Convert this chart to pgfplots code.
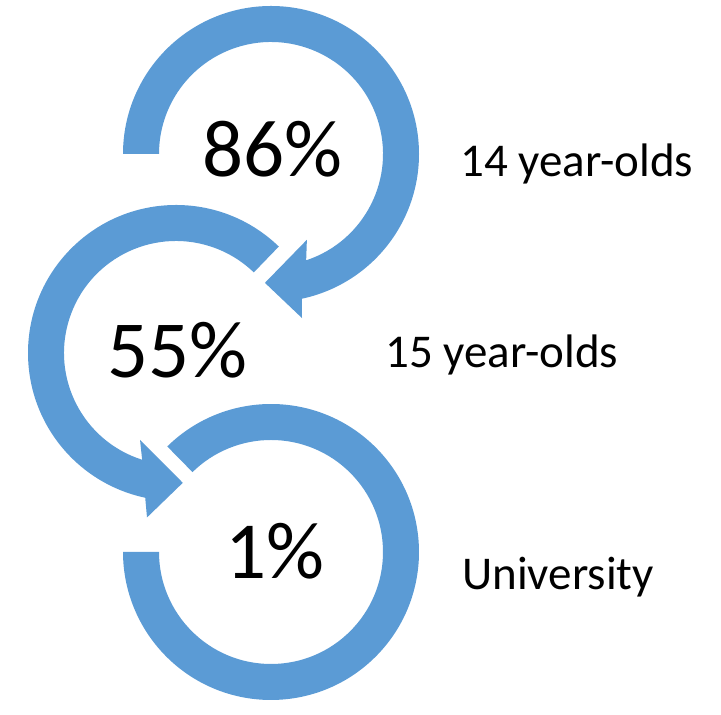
\documentclass[border=0pt]{standalone}
\usepackage{fontspec}
\setmainfont{Carlito}
\usepackage{pgfplots}
\pgfplotsset{compat=1.18}
\definecolor{arrowblue}{HTML}{5B9BD5}
\begin{document}
\begin{tikzpicture}
\begin{axis}[
  x=1pt, y=1pt,
  xmin=0, xmax=721, ymin=0, ymax=701,
  hide axis, clip=false,
]
\path (axis cs:0,0) rectangle (axis cs:721,701);
% top circular arrow (86%)
\fill[arrowblue, shift={(axis cs:271,547)}]
  (180:148pt) arc[start angle=180, end angle=-78, radius=148pt]
  -- (-79.3:167pt) -- (-92.7:129pt) -- (-67.3:93pt) -- (-71.7:112pt)
  arc[start angle=-71.7, end angle=180, radius=112pt] -- cycle;
% middle circular arrow (55%)
\fill[arrowblue, shift={(axis cs:176,348)}]
  (46:148pt) arc[start angle=46, end angle=258, radius=148pt]
  -- (260:167pt) -- (273:130pt) -- (247.5:94pt) -- (252.4:112pt)
  arc[start angle=252.4, end angle=46, radius=112pt] -- cycle;
% bottom circular arc (1%)
\fill[arrowblue, shift={(axis cs:271,149)}]
  (134.5:148pt) arc[start angle=134.5, end angle=-180, radius=148pt]
  -- (180:112pt) arc[start angle=-180, end angle=134.5, radius=112pt] -- cycle;
% percentages
\node[anchor=base west, inner sep=0pt, font=\fontsize{81}{90}\selectfont] at (axis cs:202,524) {86\%};
\node[anchor=base west, inner sep=0pt, font=\fontsize{81}{90}\selectfont] at (axis cs:107,323) {55\%};
\node[anchor=base west, inner sep=0pt, font=\fontsize{81}{90}\selectfont] at (axis cs:225,122) {1\%};
% labels
\node[anchor=base west, inner sep=0pt, font=\fontsize{47}{52}\selectfont] at (axis cs:460,524) {14 year-olds};
\node[anchor=base west, inner sep=0pt, font=\fontsize{47}{52}\selectfont] at (axis cs:385,333) {15 year-olds};
\node[anchor=base west, inner sep=0pt, font=\fontsize{47}{52}\selectfont] at (axis cs:462,111) {University};
\end{axis}
\end{tikzpicture}
\end{document}
